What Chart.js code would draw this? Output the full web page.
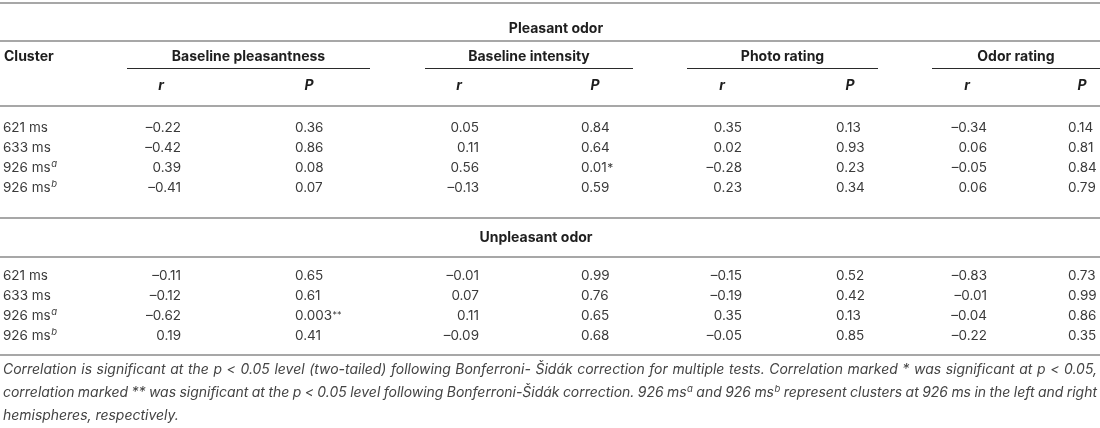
<!DOCTYPE html>
<html>
<head>
<meta charset="utf-8">
<script src="https://cdn.jsdelivr.net/npm/chart.js@4.4.1/dist/chart.umd.min.js"></script>
<style>
  html, body { margin: 0; padding: 0; background: #fff; }
  #wrap { width: 1100px; height: 428px; }
</style>
</head>
<body>
<div id="wrap"><canvas id="table_chart" width="1100" height="428"></canvas></div>
<script>
// table content
const clusters = ['621 ms', '633 ms', '926 ms', '926 ms'];
const clusterSup = ['', '', 'a', 'b'];
const measures = ['Baseline pleasantness', 'Baseline intensity', 'Photo rating', 'Odor rating'];
const sections = ['Pleasant odor', 'Unpleasant odor'];

// rows = clusters, columns = measures
const pleasantR = [
    [-0.22, 0.05, 0.35, -0.34],
    [-0.42, 0.11, 0.02, 0.06],
    [0.39, 0.56, -0.28, -0.05],
    [-0.41, -0.13, 0.23, 0.06]
];
const pleasantP = [
    [0.36, 0.84, 0.13, 0.14],
    [0.86, 0.64, 0.93, 0.81],
    [0.08, 0.01, 0.23, 0.84],
    [0.07, 0.59, 0.34, 0.79]
];
const pleasantSig = [
    ['', '', '', ''],
    ['', '', '', ''],
    ['', '*', '', ''],
    ['', '', '', '']
];
const unpleasantR = [
    [-0.11, -0.01, -0.15, -0.83],
    [-0.12, 0.07, -0.19, -0.01],
    [-0.62, 0.11, 0.35, -0.04],
    [0.19, -0.09, -0.05, -0.22]
];
const unpleasantP = [
    [0.65, 0.99, 0.52, 0.73],
    [0.61, 0.76, 0.42, 0.99],
    [0.003, 0.65, 0.13, 0.86],
    [0.41, 0.68, 0.85, 0.35]
];
const unpleasantSig = [
    ['', '', '', ''],
    ['', '', '', ''],
    ['**', '', '', ''],
    ['', '', '', '']
];
const footnote = [
    'Correlation is significant at the p < 0.05 level (two-tailed) following Bonferroni- Šidák correction for multiple tests. Correlation marked * was significant at p < 0.05,',
    'correlation marked ** was significant at the p < 0.05 level following Bonferroni-Šidák correction. 926 ms^a and 926 ms^b represent clusters at 926 ms in the left and right',
    'hemispheres, respectively.'
];

// layout (pixels)
const W = 1100, H = 428;
const rRight = [181, 479, 742, 987];
const pLeft = [295, 581, 836, 1068];
const groupSpan = [[127, 370], [425, 633], [687, 878], [932, 1100]];
const sectionRows = [[128, 148, 168, 188], [276, 296, 316, 336]];
const FONT = "Inter, 'Liberation Sans', Arial, sans-serif";
const BODY_SIZE = 13.5;
const HEAD_SIZE = 14;

function fmtR(v) {
    return (v < 0 ? '\u2013' : '') + Math.abs(v).toFixed(2);
}
function fmtP(v) {
    return v < 0.01 ? v.toFixed(3) : v.toFixed(2);
}

// one scatter dataset per column of text, points placed through the scales
let datasets = [];
[[pleasantR, pleasantP, pleasantSig], [unpleasantR, unpleasantP, unpleasantSig]].forEach(function (sec, s) {
    let rows = sectionRows[s];
    datasets.push({
        data: rows.map(function (y) { return { x: 3, y: y } }),
        cellText: clusters, cellSup: clusterSup, align: 'left'
    });
    for (let c = 0; c < measures.length; c++) {
        datasets.push({
            data: rows.map(function (y) { return { x: rRight[c], y: y } }),
            cellText: sec[0].map(function (row) { return fmtR(row[c]) }),
            align: 'right'
        });
        datasets.push({
            data: rows.map(function (y) { return { x: pLeft[c], y: y } }),
            cellText: sec[1].map(function (row, i) { return fmtP(row[c]) + sec[2][i][c] }),
            align: 'left'
        });
    }
});

function supWord(ctx, word, x, y, size, draw) {
    let parts = word.split('^');
    ctx.font = 'italic ' + size + 'px ' + FONT;
    ctx.textAlign = 'left';
    if (draw) ctx.fillText(parts[0], x, y);
    let w = ctx.measureText(parts[0]).width;
    if (parts[1]) {
        ctx.font = 'italic ' + (size * 0.68).toFixed(1) + 'px ' + FONT;
        if (draw) ctx.fillText(parts[1], x + w + 0.5, y - size * 0.3);
        w += ctx.measureText(parts[1]).width + 0.5;
    }
    return w;
}
function lineWidth(ctx, text, size) {
    let words = text.split(' ');
    let total = words.reduce(function (a, w) { return a + supWord(ctx, w, 0, 0, size, false) }, 0);
    ctx.font = 'italic ' + size + 'px ' + FONT;
    return total + ctx.measureText(' ').width * (words.length - 1);
}
function drawLine(ctx, text, x0, x1, y, size, justify) {
    let words = text.split(' ');
    let widths = words.map(function (w) { return supWord(ctx, w, 0, 0, size, false) });
    let total = widths.reduce(function (a, b) { return a + b }, 0);
    ctx.font = 'italic ' + size + 'px ' + FONT;
    let gap = justify ? (x1 - x0 - total) / (words.length - 1) : ctx.measureText(' ').width;
    let x = x0;
    ctx.fillStyle = '#444';
    words.forEach(function (w, i) {
        supWord(ctx, w, x, y, size, true);
        x += widths[i] + gap;
    });
}

const tablePlugin = {
    id: 'tablePlugin',
    afterDatasetsDraw: function (chart) {
        let ctx = chart.ctx;
        let xs = chart.scales.x, ys = chart.scales.y;
        let px = function (v) { return xs.getPixelForValue(v) };
        let py = function (v) { return ys.getPixelForValue(v) };
        ctx.save();

        // rules
        function hline(x0, x1, y, color, lw) {
            ctx.beginPath();
            ctx.strokeStyle = color;
            ctx.lineWidth = lw;
            ctx.moveTo(px(x0), py(y));
            ctx.lineTo(px(x1), py(y));
            ctx.stroke();
        }
        [3, 41, 106, 218, 257, 355].forEach(function (y) { hline(0, W, y, '#8a8a8a', 1.6) });
        groupSpan.forEach(function (g) { hline(g[0], g[1], 68.5, '#2a2a2a', 1.2) });

        // headers
        ctx.textBaseline = 'middle';
        ctx.fillStyle = '#1e1e1e';
        ctx.font = 'bold ' + HEAD_SIZE + 'px ' + FONT;
        ctx.textAlign = 'center';
        ctx.fillText(sections[0], px(556), py(29));
        ctx.fillText(sections[1], px(536), py(238));
        measures.forEach(function (m, c) {
            ctx.fillText(m, px((groupSpan[c][0] + groupSpan[c][1]) / 2), py(57));
        });
        ctx.textAlign = 'left';
        ctx.fillText('Cluster', px(4), py(57));
        ctx.font = 'italic bold ' + HEAD_SIZE + 'px ' + FONT;
        ctx.textAlign = 'center';
        for (let c = 0; c < measures.length; c++) {
            ctx.fillText('r', px(rRight[c] - 20), py(86));
            ctx.fillText('P', px(pLeft[c] + 14), py(86));
        }

        // cells
        chart.data.datasets.forEach(function (ds, i) {
            let meta = chart.getDatasetMeta(i);
            meta.data.forEach(function (pt, j) {
                let txt = ds.cellText[j];
                ctx.font = BODY_SIZE + 'px ' + FONT;
                ctx.fillStyle = '#3a3a3a';
                ctx.textAlign = ds.align;
                if (ds.cellSup && ds.cellSup[j]) {
                    ctx.fillText(txt, pt.x, pt.y);
                    let w = ctx.measureText(txt).width;
                    ctx.font = 'italic 9.5px ' + FONT;
                    ctx.textAlign = 'left';
                    ctx.fillText(ds.cellSup[j], pt.x + w + 0.5, pt.y - 4);
                } else if (txt.indexOf('*') > 0) {
                    let num = txt.replace(/\*/g, '');
                    let stars = txt.slice(num.length);
                    ctx.textAlign = 'left';
                    ctx.fillText(num, pt.x, pt.y);
                    let w = ctx.measureText(num).width;
                    ctx.font = (stars.length > 1 ? '9px ' : '12px ') + FONT;
                    ctx.fillText(stars, pt.x + w + 0.5, pt.y - (stars.length > 1 ? 1 : 0));
                } else {
                    ctx.fillText(txt, pt.x, pt.y);
                }
            });
        });

        // footnote, sized so the first line fills the table width
        let fs = 14 * (px(1097) - px(3)) / lineWidth(ctx, footnote[0], 14);
        fs = Math.min(fs * 0.985, 16);
        ctx.textBaseline = 'middle';
        drawLine(ctx, footnote[0], px(3), px(1097), py(370), fs, true);
        drawLine(ctx, footnote[1], px(3), px(1097), py(393), fs, true);
        drawLine(ctx, footnote[2], px(3), px(1097), py(416), fs, false);
        ctx.restore();
    }
};

let tableChart = new Chart(document.getElementById('table_chart'), {
    type: 'scatter',
    data: { datasets: datasets },
    options: {
        responsive: false,
        animation: false,
        events: [],
        layout: { padding: 0 },
        elements: { point: { radius: 0, hoverRadius: 0 } },
        plugins: { legend: { display: false }, tooltip: { enabled: false } },
        scales: {
            x: { type: 'linear', min: 0, max: W, display: false },
            y: { type: 'linear', min: 0, max: H, reverse: true, display: false }
        }
    },
    plugins: [tablePlugin]
});
</script>
</body>
</html>
